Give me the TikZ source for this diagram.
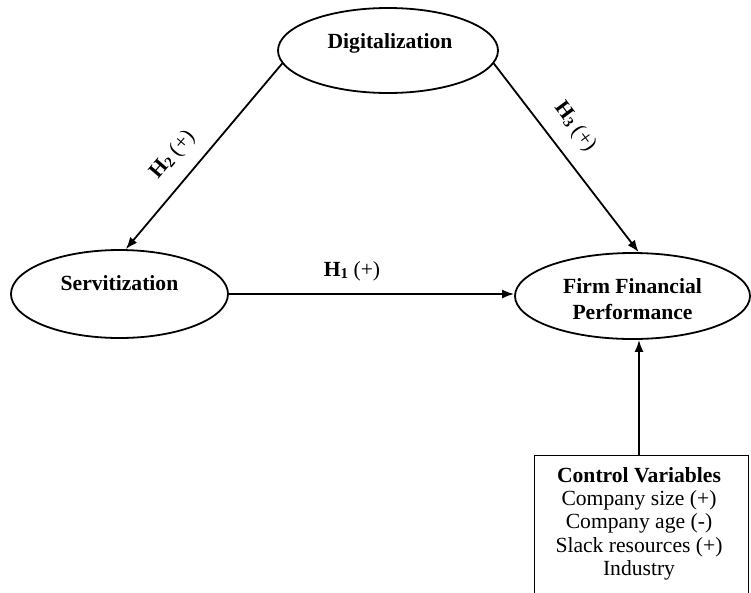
\documentclass[tikz,border=0pt]{standalone}
\usepackage{fontspec}
\setmainfont{Liberation Serif}
\usetikzlibrary{shapes.geometric,arrows.meta,calc}
\tikzset{
  oval/.style={draw, ellipse, line width=1.8pt, inner sep=0pt},
  txt/.style={inner sep=0pt, anchor=base, font=\fontsize{21.6}{23.3}\selectfont},
  btxt/.style={txt, font=\fontsize{21.6}{23.3}\selectfont\bfseries},
  conn/.style={line width=1.8pt, -{Latex[length=12pt,width=9pt]}},
  hlab/.style={inner sep=0pt, font=\fontsize{21.6}{23.3}\selectfont}
}
\newcommand{\hyp}[1]{\textbf{H}\raisebox{-2pt}{\fontsize{15}{15}\selectfont\textbf{#1}}~(+)}
\begin{document}
\begin{tikzpicture}[x=1pt,y=-1pt]
\useasboundingbox (0,0) rectangle (751,592);
\clip (0,0) rectangle (751,592);
% ellipses
\node[oval, minimum width=220pt, minimum height=85pt] (dig) at (388,50.5) {};
\node[oval, minimum width=217pt, minimum height=88pt] (serv) at (119.5,294) {};
\node[oval, minimum width=235pt, minimum height=86pt] (firm) at (632.5,296) {};
% texts
\node[btxt] (digt) at (390,48) {Digitalization};
\node[btxt] (servt) at (119.5,290.7) {Servitization};
\node[btxt] (firmt1) at (632.5,293) {Firm Financial};
\node[btxt] (firmt2) at (632.5,319) {Performance};
% control box
\node[draw, line width=1pt, minimum width=214pt, minimum height=200pt, anchor=north, inner sep=0pt] (ctrl) at (641,455) {};
\node[btxt] (cv1) at (639,482) {Control Variables};
\node[txt] (cv2) at (639,505.3) {Company size (+)};
\node[txt] (cv3) at (639,528.6) {Company age (-)};
\node[txt] (cv4) at (639,552) {Slack resources (+)};
\node[txt] (cv5) at (639,575.3) {Industry};
\coordinate (ct) at (639,455);
% connectors
\draw[conn] (dig.187.9) -- (serv.82.7);
\draw[conn] (dig.-7.4) -- (firm.82.9);
\draw[conn] (serv.east) -- (serv.east -| firm.west);
\draw[conn] (ct) -- (ct |- firm.south);
% hypothesis labels
\node[hlab] (h1) at (352,271) {\hyp{1}};
\node[hlab, rotate=49.7] (h2) at (173,155) {\hyp{2}};
\node[hlab, rotate=-53.4] (h3) at (575,127) {\hyp{3}};
\end{tikzpicture}
\end{document}
